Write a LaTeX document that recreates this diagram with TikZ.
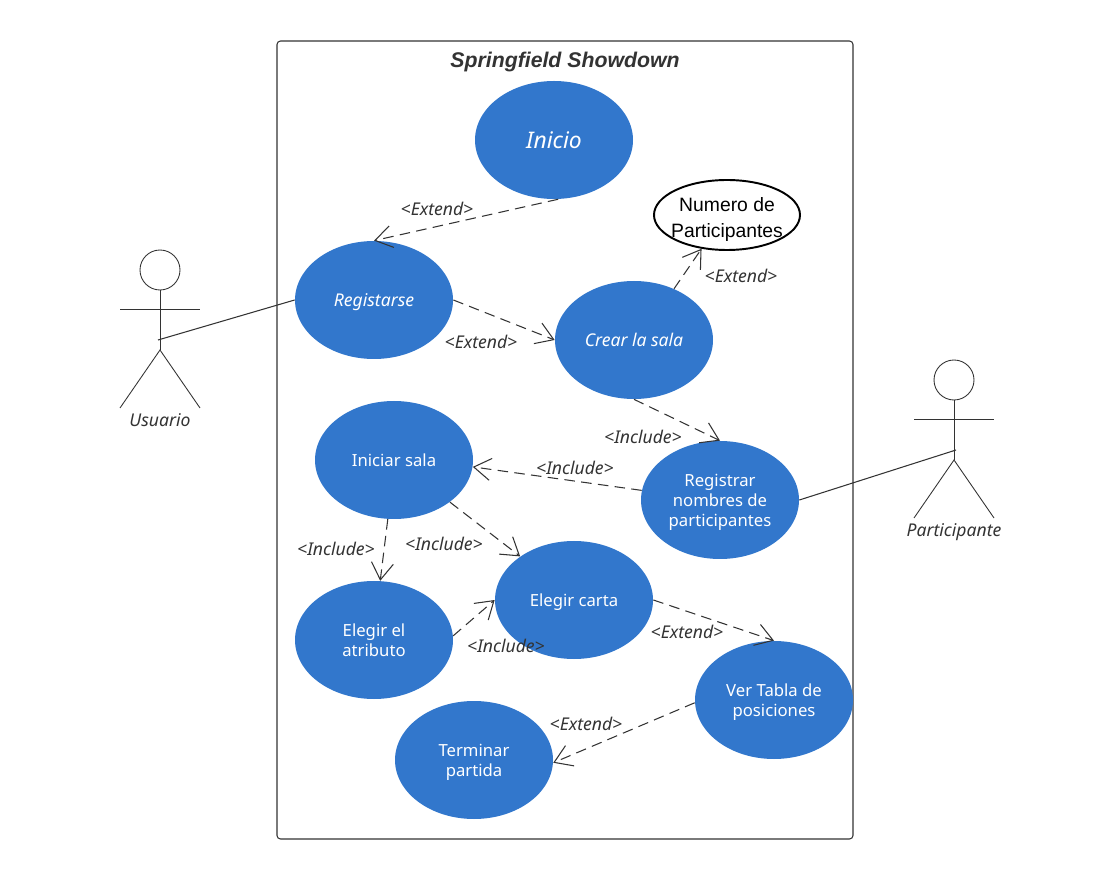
\documentclass[tikz,border=0pt]{standalone}
\usepackage{fontspec}
\setmainfont{Noto Sans}
\newfontfamily\numfont{Liberation Sans}
\usepackage{tikz}
\usetikzlibrary{arrows.meta,shapes.geometric}
\usepackage{xcolor}
\definecolor{ink}{HTML}{333333}
\definecolor{sea}{HTML}{3277CC}
\newcommand{\dropline}{\rule{0pt}{9.3pt}}
\tikzset{usecase/.style={ellipse,fill=sea,text=white,minimum width=3.16cm,minimum height=2.36cm,inner sep=0pt,align=center,font=\fontsize{9.5}{11.4}\selectfont},italiccase/.style={usecase,font=\fontsize{10}{11.4}\itshape\selectfont},actorline/.style={draw=ink,line width=.5pt},assoc/.style={draw=ink,line width=.6pt},depend/.style={draw=ink,line width=.6pt,dash pattern=on 6pt off 3.6pt,-{Straight Barb[length=3.4mm,width=4.4mm,line width=.6pt]}},steretype/.style={font=\fontsize{10}{12}\itshape\selectfont,text=ink,inner sep=0pt}}
\begin{document}
\begin{tikzpicture}
\useasboundingbox (0,0) rectangle (22.28,17.6);
\draw[ink,line width=.6pt,rounded corners=2pt] (5.54,.82) rectangle (17.06,16.78);
\node[font=\numfont\fontsize{12.1}{14}\bfseries\itshape\selectfont,text=ink,inner sep=0pt] (title) at (11.3,16.36) {Springfield Showdown};
\node[italiccase,font=\fontsize{13}{15}\itshape\selectfont] (inicio) at (11.08,14.8) {Inicio};
\node[italiccase] (registarse) at (7.48,11.6) {\dropline Registarse};
\node[italiccase] (crear) at (12.68,10.8) {Crear la sala};
\node[ellipse,draw=black,fill=white,line width=1.1pt,minimum width=2.92cm,minimum height=1.4cm,inner xsep=-.15cm,inner ysep=-.2cm,align=center,font=\numfont\fontsize{11}{14.7}\selectfont] (numero) at (14.54,13.3) {\rule{0pt}{13.5pt}Numero de\\Participantes};
\node[usecase] (iniciar) at (7.88,8.4) {Iniciar sala};
\node[usecase] (registrar) at (14.4,7.6) {\dropline Registrar\\nombres de\\participantes};
\node[usecase] (carta) at (11.48,5.6) {\dropline Elegir carta};
\node[usecase] (atributo) at (7.48,4.8) {Elegir el\\atributo};
\node[usecase] (tabla) at (15.48,3.6) {\dropline Ver Tabla de\\posiciones};
\node[usecase] (terminar) at (9.48,2.4) {\dropline Terminar\\partida};
\draw[actorline] (3.2,12.2) circle[radius=.4];
\draw[actorline] (3.2,11.8) -- (3.2,10.6);
\draw[actorline] (2.4,11.42) -- (4.0,11.42);
\draw[actorline] (2.4,9.44) -- (3.2,10.6) -- (4.0,9.44);
\coordinate (usuariohip) at (3.16,10.8);
\node[steretype] (usuario) at (3.2,9.2) {Usuario};
\draw[actorline] (19.08,10) circle[radius=.4];
\draw[actorline] (19.08,9.6) -- (19.08,8.4);
\draw[actorline] (18.28,9.22) -- (19.88,9.22);
\draw[actorline] (18.28,7.24) -- (19.08,8.4) -- (19.88,7.24);
\coordinate (participantehip) at (19.12,8.6);
\node[steretype] (participante) at (19.08,6.95) {Participante};
\draw[assoc] (usuariohip) -- (registarse.west);
\draw[assoc] (participantehip) -- (registrar.east);
\draw[depend] (inicio.-86) -- (registarse.north);
\draw[depend] (registarse.east) -- (crear.west);
\draw[depend] (crear.52) -- (numero.-127);
\draw[depend] (crear.south) -- (registrar.north);
\draw[depend] (registrar.173) -- (iniciar.-5);
\draw[depend] (iniciar.-96) -- (atributo.84);
\draw[depend] (iniciar.-37) -- (carta.141);
\draw[depend] (atributo.3) -- (carta.west);
\draw[depend] (carta.east) -- (tabla.north);
\draw[depend] (tabla.-178) -- (terminar.-2);
\node[steretype] (ext1) at (8.74,13.42) {<Extend>};
\node[steretype] (ext2) at (9.62,10.76) {<Extend>};
\node[steretype] (ext3) at (14.82,12.08) {<Extend>};
\node[steretype] (inc1) at (12.86,8.86) {<Include>};
\node[steretype] (inc2) at (11.5,8.24) {<Include>};
\node[steretype] (inc3) at (6.72,6.62) {<Include>};
\node[steretype] (inc4) at (8.88,6.72) {<Include>};
\node[steretype] (inc5) at (10.12,4.68) {<Include>};
\node[steretype] (ext4) at (13.74,4.96) {<Extend>};
\node[steretype] (ext5) at (11.72,3.12) {<Extend>};
\end{tikzpicture}
\end{document}
